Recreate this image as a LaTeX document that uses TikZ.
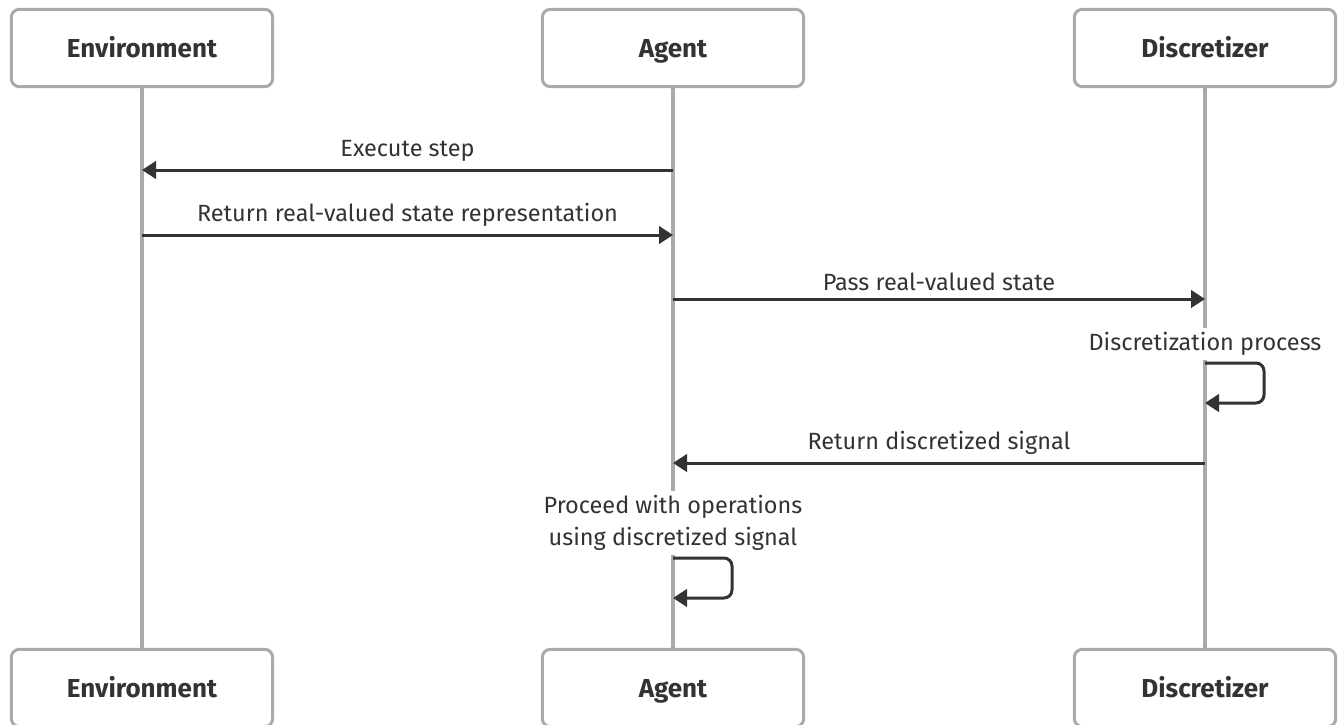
\documentclass[tikz,border=0pt]{standalone}
\usepackage{fontspec}
\setmainfont{Fira Sans}
\usetikzlibrary{arrows.meta, backgrounds}
\definecolor{ink}{HTML}{333333}
\definecolor{rulegray}{HTML}{AAAAAA}
\tikzset{>={Triangle[length=10.5pt,width=13pt]}}
\tikzset{every text node part/.style={align=center}}
\tikzset{
	actor/.style={draw=rulegray, line width=2.25pt, rounded corners=6pt, fill=white,
		minimum width=196pt, minimum height=58pt, text=ink,
		text height=1.45em, text depth=0pt,
		font=\fontsize{19.5}{22}\selectfont\bfseries},
	lifeline/.style={draw=rulegray, line width=2.6pt},
	msg/.style={draw=ink, line width=2.25pt, ->},
	msglabel/.style={text=ink, font=\fontsize{17.6}{24}\selectfont, inner sep=1pt},
}
\newcommand{\selfmsg}[2]{%
	\draw[msg, rounded corners=6pt] (#1) -- ++(59,0) -- ++(0,40) -- (#2);
}

\begin{document}
\begin{tikzpicture}[x=0.75pt, y=-0.75pt, line cap=butt, line join=round]
	\useasboundingbox (0,0) rectangle (1344,724);

	% Participants
	\node[actor] (envTop) at (142,48) {Environment};
	\node[actor] (agentTop) at (673,48) {Agent};
	\node[actor] (discTop) at (1205,48) {Discretizer};
	\node[actor] (envBot) at (142,688) {Environment};
	\node[actor] (agentBot) at (673,688) {Agent};
	\node[actor] (discBot) at (1205,688) {Discretizer};

	% Lifelines
	\begin{pgfonlayer}{background}
		\draw[lifeline] (envTop) -- (envBot);
		\draw[lifeline] (agentTop) -- (agentBot);
		\draw[lifeline] (discTop) -- (discBot);
	\end{pgfonlayer}

	% Points on the lifelines
	\coordinate (env1) at (envTop |- 0,170);
	\coordinate (agent1) at (agentTop |- 0,170);
	\coordinate (env2) at (envTop |- 0,235);
	\coordinate (agent2) at (agentTop |- 0,235);
	\coordinate (agent3) at (agentTop |- 0,299);
	\coordinate (disc3) at (discTop |- 0,299);
	\coordinate (disc4) at (discTop |- 0,363);
	\coordinate (disc5) at (discTop |- 0,403);
	\coordinate (agent6) at (agentTop |- 0,463);
	\coordinate (disc6) at (discTop |- 0,463);
	\coordinate (agent7) at (agentTop |- 0,558);
	\coordinate (agent8) at (agentTop |- 0,598);

	% Messages
	\draw[msg] (agent1) -- node[msglabel, above=4pt] (lblStep) {Execute step} (env1);
	\draw[msg] (env2) -- node[msglabel, above=4pt] (lblReturn) {Return real-valued state representation} (agent2);
	\draw[msg] (agent3) -- node[msglabel, above=4pt] (lblPass) {Pass real-valued state} (disc3);

	\node[msglabel, fill=white, inner sep=3pt] (lblProc) at (1205,344) {Discretization process};
	\selfmsg{disc4}{disc5}

	\draw[msg] (disc6) -- node[msglabel, above=4pt] (lblSignal) {Return discretized signal} (agent6);

	\node[msglabel, fill=white, inner sep=3pt] (lblProceed) at (673,523) {Proceed with operations\\using discretized signal};
	\selfmsg{agent7}{agent8}
\end{tikzpicture}
\end{document}
